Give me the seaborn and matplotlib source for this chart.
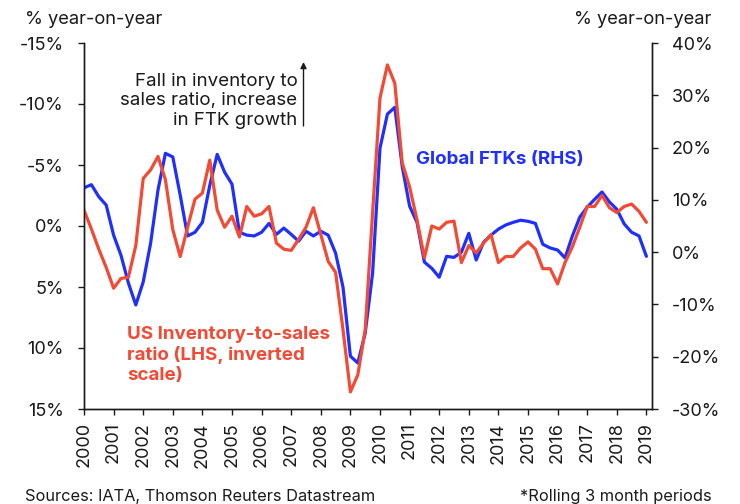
import matplotlib
matplotlib.use("Agg")
import matplotlib.pyplot as plt
import numpy as np
import pandas as pd
import seaborn as sns

# ---------------- data (quarterly, rolling 3-month periods) ----------------
start_year = 2000
periods_per_year = 4
year_ticks = list(range(2000, 2020))
lhs_ticks = [-15, -10, -5, 0, 5, 10, 15]
rhs_ticks = [-30, -20, -10, 0, 10, 20, 30, 40]

us_inventory_sales = [
    -1.3, 0.25, 1.9, 3.4, 5.1, 4.3, 4.2, 1.6,
    -3.9, -4.6, -5.7, -3.8, 0.3, 2.5, 0.1, -2.2,
    -2.7, -5.4, -1.3, 0.1, -0.8, 0.9, -1.6, -0.8,
    -1.0, -1.6, 1.4, 1.9, 2.0, 1.1, 0.1, -1.5,
    0.7, 2.9, 3.8, 8.5, 13.6, 12.2, 8.5, -1.1,
    -10.5, -13.2, -11.7, -5.2, -3.2, -0.5, 2.6, 0.0,
    0.25, -0.3, -0.4, 3.0, 1.6, 2.2, 1.4, 0.7,
    3.0, 2.5, 2.5, 1.8, 1.3, 1.9, 3.5, 3.5,
    4.75, 3.0, 1.7, 0.1, -1.6, -1.6, -2.5, -1.5,
    -1.1, -1.6, -1.8, -1.2, -0.3,
]

global_ftks = [
    12.3, 12.9, 10.6, 9.0, 3.25, -0.6, -5.9, -10.1,
    -5.7, 1.7, 11.9, 18.9, 18.2, 10.9, 3.1, 3.8,
    5.7, 12.8, 18.7, 15.3, 13.0, 3.8, 3.25, 3.1,
    3.8, 5.5, 3.4, 4.6, 3.4, 2.1, 4.0, 3.1,
    4.0, 3.25, -0.2, -6.7, -19.9, -21.2, -15.5, -4.0,
    19.9, 26.4, 27.7, 16.4, 8.8, 5.7, -1.9, -3.1,
    -4.8, -0.8, -1.0, 0.0, 3.6, -1.5, 1.9, 3.25,
    4.4, 5.2, 5.7, 6.1, 5.9, 5.5, 1.5, 0.8,
    0.4, -1.1, 3.1, 6.7, 8.6, 10.1, 11.5, 9.6,
    8.2, 5.4, 3.8, 3.1, -0.8,
]

df = pd.DataFrame({
    "t": start_year + np.arange(len(us_inventory_sales)) / periods_per_year,
    "inv": us_inventory_sales,
    "ftk": global_ftks,
})

# ---------------- style ----------------
sns.set_theme(style="ticks")
plt.rcParams["font.family"] = ["Inter", "DejaVu Sans"]

RED = "#f24a35"
BLUE = "#1f2fff"
INK = "#1a1a1a"

fig = plt.figure(figsize=(7.40, 5.04), dpi=100)
ax = fig.add_axes([84 / 740, 1 - 409 / 504, (651.7 - 84) / 740, (409 - 43) / 504])
ax2 = ax.twinx()

sns.lineplot(data=df, x="t", y="inv", ax=ax, color=RED, linewidth=2.3, legend=False)
sns.lineplot(data=df, x="t", y="ftk", ax=ax2, color=BLUE, linewidth=2.3, legend=False)

ax.set_zorder(ax2.get_zorder() + 1)
ax.patch.set_visible(False)

# x axis
ax.set_xlim(2000, 2000 + (651.7 - 84) / 29.6)
ax.set_xticks(year_ticks)
ax.set_xticklabels([str(y) for y in year_ticks], rotation=90)
ax.set_xlabel("")

# left axis (inverted)
ax.set_ylim(15, -15)
ax.set_yticks(lhs_ticks)
ax.set_yticklabels([f"{v}%" for v in lhs_ticks])
ax.set_ylabel("")

# right axis
ax2.set_ylim(-30, 40)
ax2.set_yticks(rhs_ticks)
ax2.set_yticklabels([f"{v}%" for v in rhs_ticks])
ax2.set_ylabel("")

for a in (ax, ax2):
    for s in a.spines.values():
        s.set_color(INK)
        s.set_linewidth(1.0)
    a.spines["top"].set_visible(False)
    a.grid(False)

TICK_FS = 13
ax.tick_params(axis="x", direction="out", length=4.5, width=1.0, color=INK,
               labelsize=TICK_FS, labelcolor=INK, pad=5)
ax.tick_params(axis="y", direction="out", length=4.5, width=1.0, color=INK,
               labelsize=TICK_FS, labelcolor=INK, pad=10)
ax2.tick_params(axis="y", direction="out", length=4.5, width=1.0, color=INK,
                labelsize=TICK_FS, labelcolor=INK, pad=10)

# axis titles
fig.text(25 / 740, 1 - 19 / 504, "% year-on-year", ha="left", va="center",
         fontsize=13.2, color=INK)
fig.text(711.7 / 740, 1 - 19 / 504, "% year-on-year", ha="right", va="center",
         fontsize=13.2, color=INK)

# annotation with arrow
fig.text(297.5 / 740, 1 - 101 / 504,
         "Fall in inventory to\nsales ratio, increase\nin FTK growth",
         ha="right", va="center", fontsize=13.5, color=INK, linespacing=1.2)
ax.annotate("", xy=(303.5 / 740, 1 - 62 / 504), xytext=(303.5 / 740, 1 - 126 / 504),
            xycoords="figure fraction", textcoords="figure fraction",
            arrowprops=dict(arrowstyle="-|>", color=INK, lw=1.0,
                            mutation_scale=9, shrinkA=0, shrinkB=0))

# series labels
fig.text(415.7 / 740, 1 - 160 / 504, "Global FTKs (RHS)", ha="left", va="center",
         fontsize=13.5, fontweight="bold", color=BLUE)
fig.text(127.3 / 740, 1 - 355 / 504,
         "US Inventory-to-sales\nratio (LHS, inverted\nscale)",
         ha="left", va="center", fontsize=13.5, fontweight="bold", color=RED,
         linespacing=1.2)

# footer
fig.text(25 / 740, 1 - 497 / 504, "Sources: IATA, Thomson Reuters Datastream",
         ha="left", va="center", fontsize=11.8, color=INK)
fig.text(711.7 / 740, 1 - 497 / 504, "*Rolling 3 month periods",
         ha="right", va="center", fontsize=11.8, color=INK)

fig.savefig("out.png", dpi=100)
